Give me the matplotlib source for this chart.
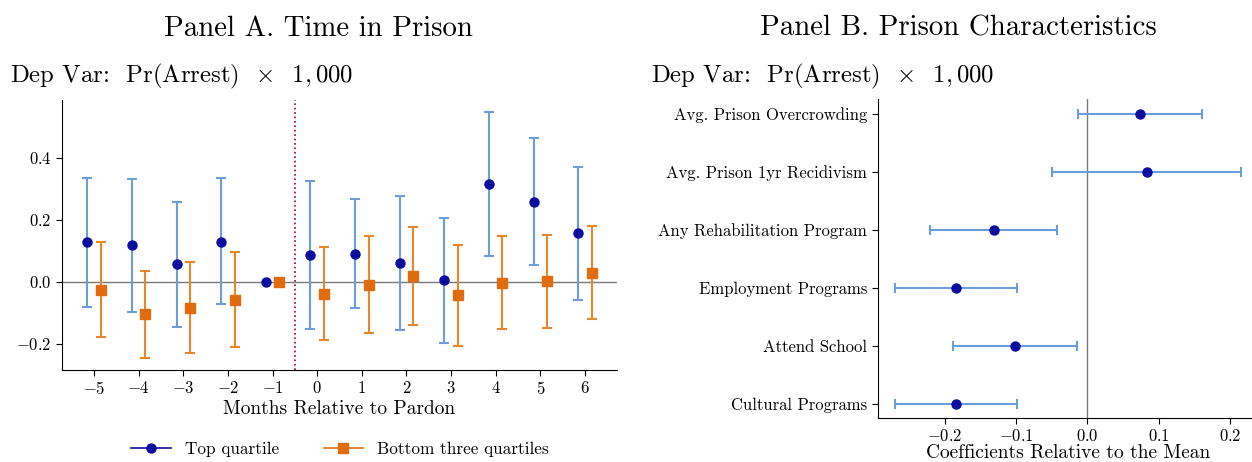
import matplotlib
matplotlib.use("Agg")
import matplotlib.pyplot as plt
import numpy as np
from matplotlib.lines import Line2D

plt.rcParams["font.family"] = "serif"
plt.rcParams["font.serif"] = ["cmr10"]
plt.rcParams["mathtext.fontset"] = "cm"
plt.rcParams["axes.formatter.use_mathtext"] = True

# Panel A: event study by month relative to pardon
months = [-5, -4, -3, -2, -1, 0, 1, 2, 3, 4, 5, 6]
top_coef = [0.127, 0.118, 0.057, 0.130, 0.0, 0.088, 0.091, 0.061, 0.005, 0.315, 0.258, 0.156]
top_lo = [-0.081, -0.097, -0.145, -0.073, 0.0, -0.151, -0.085, -0.154, -0.196, 0.084, 0.054, -0.059]
top_hi = [0.335, 0.333, 0.259, 0.335, 0.0, 0.326, 0.268, 0.276, 0.206, 0.547, 0.463, 0.371]
bot_coef = [-0.025, -0.105, -0.083, -0.058, 0.0, -0.039, -0.009, 0.018, -0.043, -0.003, 0.001, 0.030]
bot_lo = [-0.177, -0.245, -0.230, -0.211, 0.0, -0.189, -0.165, -0.141, -0.206, -0.153, -0.148, -0.121]
bot_hi = [0.128, 0.034, 0.064, 0.096, 0.0, 0.113, 0.148, 0.176, 0.119, 0.148, 0.151, 0.181]

# Panel B: prison characteristics
characteristics = [
    "Avg. Prison Overcrowding",
    "Avg. Prison 1yr Recidivism",
    "Any Rehabilitation Program",
    "Employment Programs",
    "Attend School",
    "Cultural Programs",
]
char_coef = [0.074, 0.083, -0.131, -0.184, -0.102, -0.184]
char_lo = [-0.0135, -0.049, -0.220, -0.270, -0.189, -0.270]
char_hi = [0.161, 0.215, -0.043, -0.098, -0.014, -0.098]

BLUE = "#0c0c9e"
BLUE_ERR = "#6b9ddb"
ORANGE = "#e06c0e"
ORANGE_ERR = "#e8862a"
OFFSET = 0.15

W, H = 1252, 462
fig = plt.figure(figsize=(W / 100, H / 100), dpi=100)
ax1 = fig.add_axes([62 / W, 1 - 370 / H, 555 / W, 270 / H])
ax2 = fig.add_axes([877.5 / W, 1 - 418 / H, 380.5 / W, 319 / H])


def draw_series(ax, x, coef, lo, hi, marker, color, ecolor):
    x = np.asarray(x, dtype=float)
    coef = np.asarray(coef)
    yerr = np.vstack([coef - np.asarray(lo), np.asarray(hi) - coef])
    has_ci = yerr.sum(axis=0) > 0  # the omitted month has no interval
    ax.errorbar(x[has_ci], coef[has_ci], yerr=yerr[:, has_ci], fmt="none",
                ecolor=ecolor, elinewidth=1.5, capsize=3.5, capthick=1.5, zorder=2)
    ax.plot(x, coef, marker, color=color, markersize=6.5, linestyle="none", zorder=3)


m = np.array(months, dtype=float)
draw_series(ax1, m - OFFSET, top_coef, top_lo, top_hi, "o", BLUE, BLUE_ERR)
draw_series(ax1, m + OFFSET, bot_coef, bot_lo, bot_hi, "s", ORANGE, ORANGE_ERR)
ax1.axhline(0, color="#777777", linewidth=1, zorder=1)
ax1.axvline(-0.5, color="#a0001c", linestyle=":", linewidth=1.2, zorder=1)
ax1.set_xticks(months)
ax1.set_yticks([-0.2, 0.0, 0.2, 0.4])
ax1.set_xlabel("Months Relative to Pardon", fontsize=14, labelpad=2)

# Panel B coefficient plot, first characteristic on top
ypos = np.arange(len(characteristics))[::-1]
cc = np.asarray(char_coef)
xerr = np.vstack([cc - np.asarray(char_lo), np.asarray(char_hi) - cc])
ax2.errorbar(cc, ypos, xerr=xerr, fmt="none", ecolor=BLUE_ERR,
             elinewidth=1.5, capsize=3.5, capthick=1.5, zorder=2)
ax2.plot(cc, ypos, "o", color=BLUE, markersize=6.5, zorder=3)
ax2.axvline(0, color="#777777", linewidth=1, zorder=1)
ax2.set_yticks(ypos)
ax2.set_yticklabels(characteristics, fontsize=11.5)
ax2.set_xticks([-0.2, -0.1, 0.0, 0.1, 0.2])
ax2.set_xlabel("Coefficients Relative to the Mean", fontsize=14, labelpad=0)

for ax in (ax1, ax2):
    ax.spines["top"].set_visible(False)
    ax.spines["right"].set_visible(False)
    ax.tick_params(labelsize=12, length=4)

dep_var = r"Dep Var:  Pr(Arrest)  $\times$  $1,000$"
fig.text(318 / W, 1 - 36 / H, "Panel A. Time in Prison", fontsize=20.8,
         ha="center", va="baseline")
fig.text(958.5 / W, 1 - 36 / H, "Panel B. Prison Characteristics", fontsize=20.8,
         ha="center", va="baseline")
fig.text(10 / W, 1 - 82 / H, dep_var, fontsize=17.8, va="baseline")
fig.text(651 / W, 1 - 82 / H, dep_var, fontsize=17.8, va="baseline")

handles = [
    Line2D([], [], color=BLUE, marker="o", markersize=6.5, linewidth=1.2),
    Line2D([], [], color=ORANGE, marker="s", markersize=6.5, linewidth=1.2),
]
fig.legend(handles, ["Top quartile", "Bottom three quartiles"], ncol=2,
           loc="center", bbox_to_anchor=(340 / W, 1 - 449 / H), frameon=False,
           fontsize=12.4, handlelength=2.3, handletextpad=0.8, columnspacing=2.6)

fig.savefig("out.png", dpi=100)
